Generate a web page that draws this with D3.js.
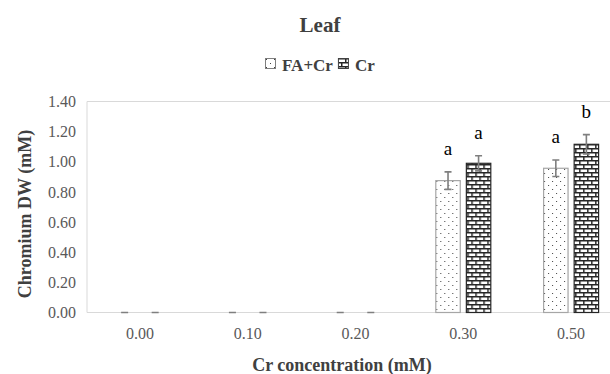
<!DOCTYPE html>
<html>
<head>
<meta charset="utf-8">
<script src="https://cdn.jsdelivr.net/npm/d3@7"></script>
<style>
  body { margin: 0; background: #fff; }
</style>
</head>
<body>
<svg id="chart"></svg>
<script>
const categories = ["0.00", "0.10", "0.20", "0.30", "0.50"];
const seriesNames = ["FA+Cr", "Cr"];
const faCrValues = [0, 0, 0, 0.875, 0.957];
const crValues = [0, 0, 0, 0.990, 1.116];
const faCrErrors = [0, 0, 0, 0.058, 0.055];
const crErrors = [0, 0, 0, 0.05, 0.064];
const faCrLetters = ["", "", "", "a", "a"];
const crLetters = ["", "", "", "a", "b"];
const yTicks = [0, 0.2, 0.4, 0.6, 0.8, 1.0, 1.2, 1.4];

const FONT = "'Liberation Serif', Tinos, 'DejaVu Serif', serif";
const width = 610, height = 374;
const margin = { top: 101.5, left: 86, bottom: 61.5 };
const plotRight = 625; // plot area runs past the right edge of the picture

const svg = d3.select("#chart").attr("width", width).attr("height", height)
  .attr("font-family", FONT);
svg.append("rect").attr("width", width).attr("height", height).attr("fill", "#fff");

// fill patterns
const defs = svg.append("defs");
const dots = defs.append("pattern")
  .attr("id", "dots").attr("patternUnits", "userSpaceOnUse")
  .attr("width", 8).attr("height", 8);
dots.append("rect").attr("width", 8).attr("height", 8).attr("fill", "#fff");
dots.append("rect").attr("x", 1).attr("y", 1).attr("width", 1).attr("height", 1).attr("fill", "#404040");
dots.append("rect").attr("x", 5).attr("y", 5).attr("width", 1).attr("height", 1).attr("fill", "#404040");

const brick = defs.append("pattern")
  .attr("id", "brick").attr("patternUnits", "userSpaceOnUse")
  .attr("width", 8).attr("height", 8);
brick.append("rect").attr("width", 8).attr("height", 8).attr("fill", "#fff");
brick.append("rect").attr("x", 0).attr("y", 0).attr("width", 8).attr("height", 1.5).attr("fill", "#262626");
brick.append("rect").attr("x", 0).attr("y", 4).attr("width", 8).attr("height", 1.5).attr("fill", "#262626");
brick.append("rect").attr("x", 0).attr("y", 0).attr("width", 1.5).attr("height", 4).attr("fill", "#262626");
brick.append("rect").attr("x", 4).attr("y", 4).attr("width", 1.5).attr("height", 4).attr("fill", "#262626");

const fills = { "FA+Cr": "url(#dots)", "Cr": "url(#brick)" };
const strokes = { "FA+Cr": "#a6a6a6", "Cr": "#262626" };

const x0 = d3.scaleBand().domain(categories).range([margin.left, plotRight]);
const x1 = d3.scaleBand().domain(seriesNames).range([-27.5, 27.5]).paddingInner(0.2);
const y = d3.scaleLinear().domain([0, 1.4]).range([height - margin.bottom, margin.top]);

// plot area frame
svg.append("line")
  .attr("x1", margin.left + 1).attr("x2", width)
  .attr("y1", y(1.4)).attr("y2", y(1.4))
  .attr("stroke", "#d9d9d9");
svg.append("line")
  .attr("x1", margin.left + 1).attr("x2", margin.left + 1)
  .attr("y1", y(1.4)).attr("y2", y(0))
  .attr("stroke", "#d9d9d9");

// y axis
const yAxis = svg.append("g")
  .attr("transform", `translate(${margin.left - 10},0)`)
  .call(d3.axisLeft(y).tickValues(yTicks).tickFormat(d3.format(".2f")).tickSize(0).tickPadding(0));
yAxis.attr("font-family", FONT).attr("font-size", 16);
yAxis.select(".domain").remove();
yAxis.selectAll("text").attr("fill", "#595959");

// x axis
const xAxis = svg.append("g")
  .attr("transform", `translate(0,${y(0)})`)
  .call(d3.axisBottom(x0).tickSize(0).tickPadding(15));
xAxis.attr("font-family", FONT).attr("font-size", 16);
xAxis.select(".domain").attr("stroke", "#d9d9d9").attr("d", `M${margin.left + 1},0H${width}`);
xAxis.selectAll("text").attr("fill", "#595959");

// bars
const rows = categories.map((c, i) => ({
  cat: c,
  items: [
    { s: "FA+Cr", v: faCrValues[i], e: faCrErrors[i], l: faCrLetters[i] },
    { s: "Cr", v: crValues[i], e: crErrors[i], l: crLetters[i] }
  ]
}));

const groups = svg.selectAll(".grp")
  .data(rows)
  .enter()
  .append("g")
  .attr("class", "grp")
  .attr("transform", d => `translate(${x0(d.cat) + x0.bandwidth() / 2},0)`);

const items = groups.selectAll(".item")
  .data(d => d.items)
  .enter()
  .append("g")
  .attr("class", "item");

items.filter(d => d.v > 0)
  .append("rect")
  .attr("x", d => x1(d.s))
  .attr("y", d => y(d.v))
  .attr("width", x1.bandwidth())
  .attr("height", d => y(0) - y(d.v))
  .attr("fill", d => fills[d.s])
  .attr("stroke", d => strokes[d.s])
  .attr("stroke-width", 1.2);

// error bars
const cap = 3.5;
items.append("path")
  .attr("d", d => {
    const cx = x1(d.s) + x1.bandwidth() / 2;
    const t = y(d.v + d.e), b = y(d.v - d.e);
    return `M${cx},${t}V${b}M${cx - cap},${t}H${cx + cap}M${cx - cap},${b}H${cx + cap}`;
  })
  .attr("fill", "none")
  .attr("stroke", "#7f7f7f")
  .attr("stroke-width", 1.6);

// significance letters
items.filter(d => d.l)
  .append("text")
  .attr("x", d => x1(d.s) + x1.bandwidth() / 2)
  .attr("y", d => y(d.v + d.e) - 17)
  .attr("text-anchor", "middle")
  .attr("font-size", 19)
  .attr("fill", "#000")
  .text(d => d.l);

// title
svg.append("text")
  .attr("x", 320).attr("y", 31.5)
  .attr("text-anchor", "middle")
  .attr("font-size", 21).attr("font-weight", "bold")
  .attr("fill", "#404040")
  .text("Leaf");

// legend
const legend = svg.append("g").attr("transform", "translate(265,58)");
let lx = 0;
seriesNames.forEach(name => {
  legend.append("rect")
    .attr("x", lx + 0.5).attr("y", 0.5).attr("width", 10).attr("height", 10)
    .attr("fill", fills[name])
    .attr("stroke", name === "Cr" ? "#404040" : "#7f7f7f");
  const t = legend.append("text")
    .attr("x", lx + 17).attr("y", 12.5)
    .attr("font-size", 17).attr("font-weight", "bold")
    .attr("fill", "#404040")
    .text(name);
  lx += 17 + t.node().getComputedTextLength() + 5;
});

// axis titles
svg.append("text")
  .attr("x", 342).attr("y", 371)
  .attr("text-anchor", "middle")
  .attr("font-size", 18).attr("font-weight", "bold")
  .attr("fill", "#404040")
  .text("Cr concentration (mM)");

svg.append("text")
  .attr("transform", "translate(31,214) rotate(-90)")
  .attr("text-anchor", "middle")
  .attr("font-size", 18).attr("font-weight", "bold")
  .attr("fill", "#404040")
  .text("Chromium DW (mM)");
</script>
</body>
</html>
